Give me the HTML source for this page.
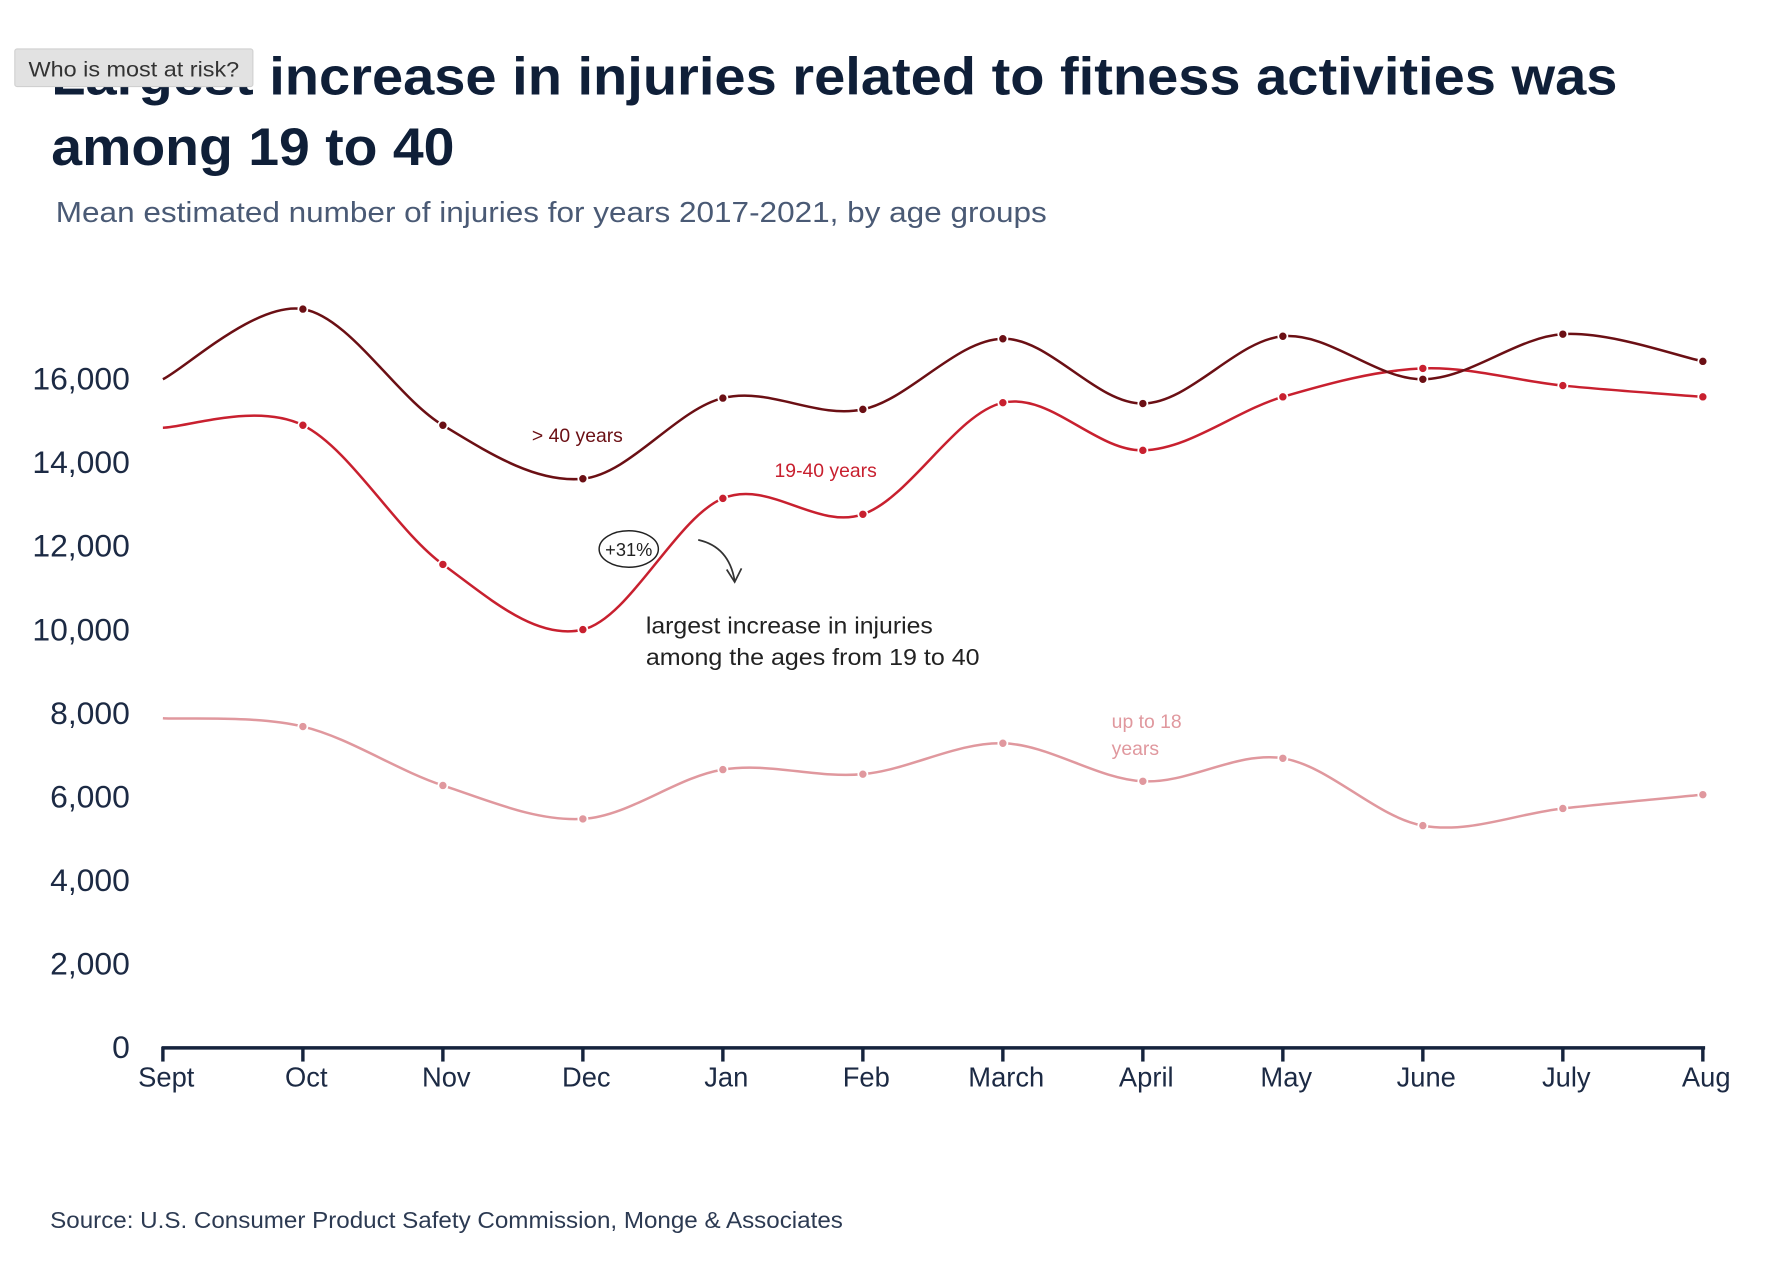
<!DOCTYPE html>
<html><head><meta charset="utf-8"><style>
html,body{margin:0;padding:0;background:#fff;}
svg{display:block;font-family:"Liberation Sans",sans-serif;}
</style></head><body>
<svg id="chart" width="1786" height="1270" viewBox="0 0 1568 1115" xmlns="http://www.w3.org/2000/svg">
<rect width="1568" height="1115" fill="#fff"/>
<text x="45" y="83" font-size="46" font-weight="bold" fill="#0f1f38" textLength="1375" lengthAdjust="spacingAndGlyphs">Largest increase in injuries related to fitness activities was</text>
<text x="45" y="145" font-size="46" font-weight="bold" fill="#0f1f38" textLength="354" lengthAdjust="spacingAndGlyphs">among 19 to 40</text>
<text x="49" y="195" font-size="25" fill="#4a5a75" textLength="870" lengthAdjust="spacingAndGlyphs">Mean estimated number of injuries for years 2017-2021, by age groups</text>
<g>
<rect x="13" y="43" width="209" height="33" rx="2" fill="#e2e2e2" stroke="#d0d0d0"/>
<text x="25" y="67" font-size="19" fill="#333" textLength="185" lengthAdjust="spacingAndGlyphs">Who is most at risk?</text>
</g>
<g id="yaxis"></g>
<g id="xaxis"></g>
<g id="series"></g>
<text x="467" y="388" font-size="17" fill="#6b0f14">&gt; 40 years</text>
<text x="680" y="419" font-size="17" fill="#c8202f">19-40 years</text>
<text x="976" y="639" font-size="17" fill="#e0989e">up to 18</text>
<text x="976" y="663" font-size="17" fill="#e0989e">years</text>
<g>
<ellipse cx="552" cy="482" rx="26" ry="16" fill="none" stroke="#222" stroke-width="1.3"/>
<text x="552" y="488" font-size="16" fill="#222" text-anchor="middle">+31%</text>
</g>
<g fill="none" stroke="#333" stroke-width="1.5">
<path d="M613,474 Q640,480 645,510"/>
<path d="M638,500 L645,511 L651,499"/>
</g>
<text x="567" y="556" font-size="20" fill="#222" textLength="252" lengthAdjust="spacingAndGlyphs">largest increase in injuries</text>
<text x="567" y="584" font-size="20" fill="#222" textLength="293" lengthAdjust="spacingAndGlyphs">among the ages from 19 to 40</text>
<text x="44" y="1078" font-size="20" fill="#2c3a52" textLength="696" lengthAdjust="spacingAndGlyphs">Source: U.S. Consumer Product Safety Commission, Monge &amp; Associates</text>
</svg>
<script>
const months = ["Sept","Oct","Nov","Dec","Jan","Feb","March","April","May","June","July","Aug"];
const over40 = [16000,17680,14900,13620,15550,15280,16970,15420,17030,16000,17080,16430];
const age19to40 = [14840,14900,11570,10010,13150,12770,15440,14300,15580,16260,15850,15580];
const upTo18 = [7890,7690,6280,5480,6660,6550,7290,6380,6930,5320,5730,6060];
const yTicks = [0,2000,4000,6000,8000,10000,12000,14000,16000];
const yTickLabels = ["0","2,000","4,000","6,000","8,000","10,000","12,000","14,000","16,000"];

const NS = "http://www.w3.org/2000/svg";
const x = i => 143 + i * (1495 - 143) / (months.length - 1);
const y = v => 920 - v * (920 - 333) / 16000;
function mk(tag, attrs, parent) {
  const e = document.createElementNS(NS, tag);
  for (const k in attrs) e.setAttribute(k, attrs[k]);
  parent.appendChild(e);
  return e;
}
const yg = document.getElementById('yaxis');
yTicks.forEach((v, i) => {
  const t = mk('text', {x: 114, y: y(v) + 9, 'font-size': 28, fill: '#1c2a44', 'text-anchor': 'end'}, yg);
  
  
  t.textContent = yTickLabels[i];
});
const xg = document.getElementById('xaxis');
const axisLine = mk('line', {x1: 142, y1: 920, x2: 1497, y2: 920, stroke: '#15233d', 'stroke-width': 3}, xg);


months.forEach((m, i) => {
  const tk = mk('line', {x1: x(i), y1: 919, x2: x(i), y2: 932, stroke: '#15233d', 'stroke-width': 3}, xg);
  
  
  const t = mk('text', {x: x(i) + 3, y: 954, 'font-size': 24, fill: '#1c2a44', 'text-anchor': 'middle'}, xg);
  
  
  t.textContent = m;
});
function smoothPath(vals) {
  const p = vals.map((v, i) => [x(i), y(v)]);
  let d = `M${p[0][0]},${p[0][1]}`;
  for (let i = 0; i < p.length - 1; i++) {
    const p0 = p[Math.max(0, i - 1)], p1 = p[i], p2 = p[i + 1], p3 = p[Math.min(p.length - 1, i + 2)];
    const c1 = [p1[0] + (p2[0] - p0[0]) / 6, p1[1] + (p2[1] - p0[1]) / 6];
    const c2 = [p2[0] - (p3[0] - p1[0]) / 6, p2[1] - (p3[1] - p1[1]) / 6];
    d += ` C${c1[0]},${c1[1]} ${c2[0]},${c2[1]} ${p2[0]},${p2[1]}`;
  }
  return d;
}
const sg = document.getElementById('series');
[[upTo18, '#e0989e', 'up-to-18'], [age19to40, '#c8202f', '19-40'], [over40, '#6b0f14', 'over-40']].forEach(([vals, col, nm]) => {
  const path = mk('path', {d: smoothPath(vals), fill: 'none', stroke: col, 'stroke-width': 2.2}, sg);
  
  
  vals.forEach((v, i) => {
    if (i === 0) return;
    const c = mk('circle', {cx: x(i), cy: y(v), r: 4, fill: col, stroke: '#fff', 'stroke-width': 1.5}, sg);
    
    
  });
});
</script>
</body></html>
